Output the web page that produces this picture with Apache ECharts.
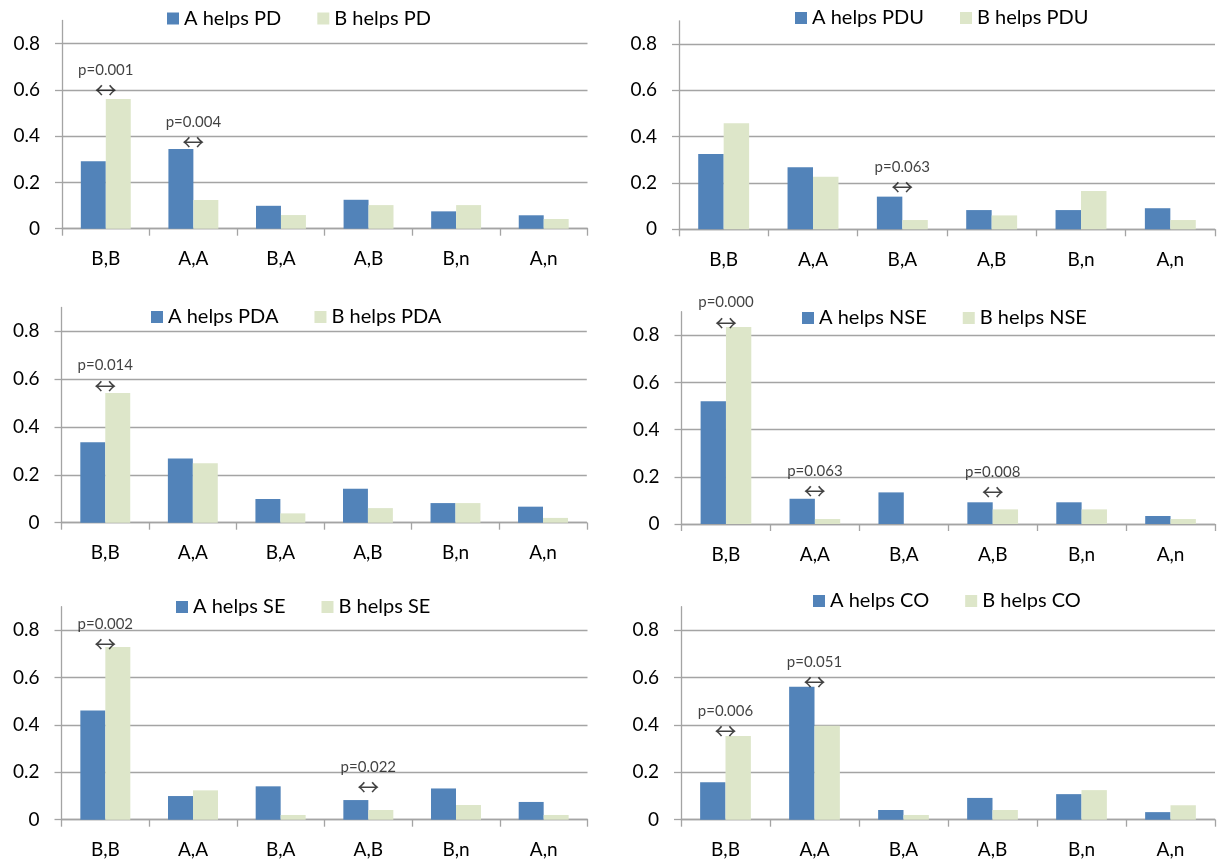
<!DOCTYPE html>
<html>
<head>
<meta charset="utf-8">
<script src="https://cdn.jsdelivr.net/npm/echarts@6/dist/echarts.min.js"></script>
<style>
html,body{margin:0;padding:0;background:#ffffff;}
#chart{width:1225px;height:867px;}
</style>
</head>
<body>
<div id="chart"></div>
<script>
// ---------------- data ----------------
const categories = ['B,B', 'A,A', 'B,A', 'A,B', 'B,n', 'A,n'];
const yTickValues = [0, 0.2, 0.4, 0.6, 0.8];

const panelNames = ['PD', 'PDU', 'PDA', 'NSE', 'SE', 'CO'];

const aHelpsPD  = [0.292, 0.344, 0.099, 0.125, 0.075, 0.058];
const bHelpsPD  = [0.561, 0.124, 0.059, 0.102, 0.102, 0.042];

const aHelpsPDU = [0.325, 0.268, 0.141, 0.083, 0.083, 0.091];
const bHelpsPDU = [0.458, 0.227, 0.040, 0.060, 0.165, 0.040];

const aHelpsPDA = [0.336, 0.268, 0.099, 0.142, 0.082, 0.067];
const bHelpsPDA = [0.542, 0.248, 0.039, 0.061, 0.082, 0.020];

const aHelpsNSE = [0.520, 0.107, 0.134, 0.092, 0.092, 0.034];
const bHelpsNSE = [0.835, 0.021, 0.000, 0.062, 0.062, 0.021];

const aHelpsSE  = [0.461, 0.100, 0.141, 0.083, 0.132, 0.075];
const bHelpsSE  = [0.730, 0.124, 0.020, 0.041, 0.062, 0.020];

const aHelpsCO  = [0.158, 0.562, 0.041, 0.092, 0.108, 0.032];
const bHelpsCO  = [0.354, 0.397, 0.020, 0.041, 0.125, 0.061];

// p-value annotations: [category index, value at the arrow, text]
const annPD  = [[0, 0.601, 'p=0.001'], [1, 0.376, 'p=0.004']];
const annPDU = [[2, 0.184, 'p=0.063']];
const annPDA = [[0, 0.573, 'p=0.014']];
const annNSE = [[0, 0.855, 'p=0.000'], [1, 0.140, 'p=0.063'], [3, 0.137, 'p=0.008']];
const annSE  = [[0, 0.742, 'p=0.002'], [3, 0.139, 'p=0.022']];
const annCO  = [[0, 0.376, 'p=0.006'], [1, 0.583, 'p=0.051']];

// ---------------- layout ----------------
const panelA = [aHelpsPD, aHelpsPDU, aHelpsPDA, aHelpsNSE, aHelpsSE, aHelpsCO];
const panelB = [bHelpsPD, bHelpsPDU, bHelpsPDA, bHelpsNSE, bHelpsSE, bHelpsCO];
const panelAnn = [annPD, annPDU, annPDA, annNSE, annSE, annCO];

const grids = [
  {left: 62,  top: 20.5,  width: 525.5, height: 208.2},
  {left: 679, top: 20.8,  width: 536,   height: 208.5},
  {left: 61.5,top: 307.4, width: 525.3, height: 215.3},
  {left: 681.5,top: 311.7,width: 533.5, height: 212.3},
  {left: 61.5,top: 606.7, width: 526,   height: 213},
  {left: 681, top: 606.7, width: 534,   height: 213}
];
const legendPos = [
  {left: 167, top: 8.5},
  {left: 795, top: 8},
  {left: 151, top: 307},
  {left: 802, top: 308},
  {left: 176, top: 597},
  {left: 813, top: 591}
];

const BLUE = '#5283B9';
const GREEN = '#DDE6C9';
const GRID_GRAY = '#A4A4A4';
const FONT = 'Lato';

const option = {
  animation: false,
  backgroundColor: '#ffffff',
  color: [BLUE, GREEN],
  grid: [], xAxis: [], yAxis: [], legend: [], series: []
};

for (let i = 0; i < 6; i++) {
  const g = grids[i];
  option.grid.push({left: g.left, top: g.top, width: g.width, height: g.height, containLabel: false});
  option.xAxis.push({
    type: 'category', gridIndex: i, data: categories,
    boundaryGap: true,
    axisLine: {show: true, lineStyle: {color: GRID_GRAY, width: 1.3}},
    axisTick: {show: true, alignWithLabel: false, length: 7, lineStyle: {color: GRID_GRAY, width: 1.3}},
    axisLabel: {color: '#000', fontFamily: FONT, fontSize: 19, margin: 21},
    splitLine: {show: false}
  });
  option.yAxis.push({
    type: 'value', gridIndex: i, min: 0, max: 0.9, interval: 0.2,
    axisLine: {show: true, lineStyle: {color: GRID_GRAY, width: 1.3}},
    axisTick: {show: true, length: 7, lineStyle: {color: GRID_GRAY, width: 1.3}},
    axisLabel: {
      color: '#000', fontFamily: FONT, fontSize: 19, margin: 22,
      showMaxLabel: false,
      formatter: function (v) {
        if (yTickValues.indexOf(Math.round(v * 10) / 10) < 0) return '';
        return v === 0 ? '0' : v.toFixed(1);
      }
    },
    splitLine: {
      show: true, showMinLine: true, showMaxLine: false,
      lineStyle: {color: [GRID_GRAY, GRID_GRAY, GRID_GRAY, GRID_GRAY, GRID_GRAY, 'rgba(0,0,0,0)'], width: 1.3}
    }
  });
  const nameA = 'A helps ' + panelNames[i];
  const nameB = 'B helps ' + panelNames[i];
  option.legend.push({
    left: legendPos[i].left, top: legendPos[i].top,
    orient: 'horizontal', padding: 0,
    itemWidth: 12, itemHeight: 12, itemGap: 36, icon: 'rect',
    data: [nameA, nameB],
    textStyle: {color: '#000', fontFamily: FONT, fontSize: 20, lineHeight: 20},
    selectedMode: false
  });
  option.series.push({
    name: nameA, type: 'bar', xAxisIndex: i, yAxisIndex: i,
    data: panelA[i], itemStyle: {color: BLUE},
    barGap: '0%', barCategoryGap: '43%'
  });
  option.series.push({
    name: nameB, type: 'bar', xAxisIndex: i, yAxisIndex: i,
    data: panelB[i], itemStyle: {color: GREEN},
    barGap: '0%', barCategoryGap: '43%'
  });
  option.series.push({
    name: 'ann' + i, type: 'scatter', xAxisIndex: i, yAxisIndex: i,
    data: panelAnn[i].map(function (a) { return [a[0], a[1], a[2]]; }),
    symbol: 'circle', symbolSize: 1,
    itemStyle: {color: 'rgba(0,0,0,0)'},
    silent: true, clip: false, z: 10,
    label: {
      show: true, position: 'inside', offset: [0, -10],
      formatter: function (p) { return '{t|' + p.data[2] + '}\n{a|\u2194}'; },
      rich: {
        t: {fontFamily: FONT, fontSize: 15, color: '#111', lineHeight: 20, align: 'center'},
        a: {fontFamily: 'Noto Sans CJK SC', fontSize: 22, color: '#111', lineHeight: 20, align: 'center'}
      }
    }
  });
}

const chart = echarts.init(document.getElementById('chart'), null, {renderer: 'canvas'});
chart.setOption(option);
</script>
</body>
</html>
